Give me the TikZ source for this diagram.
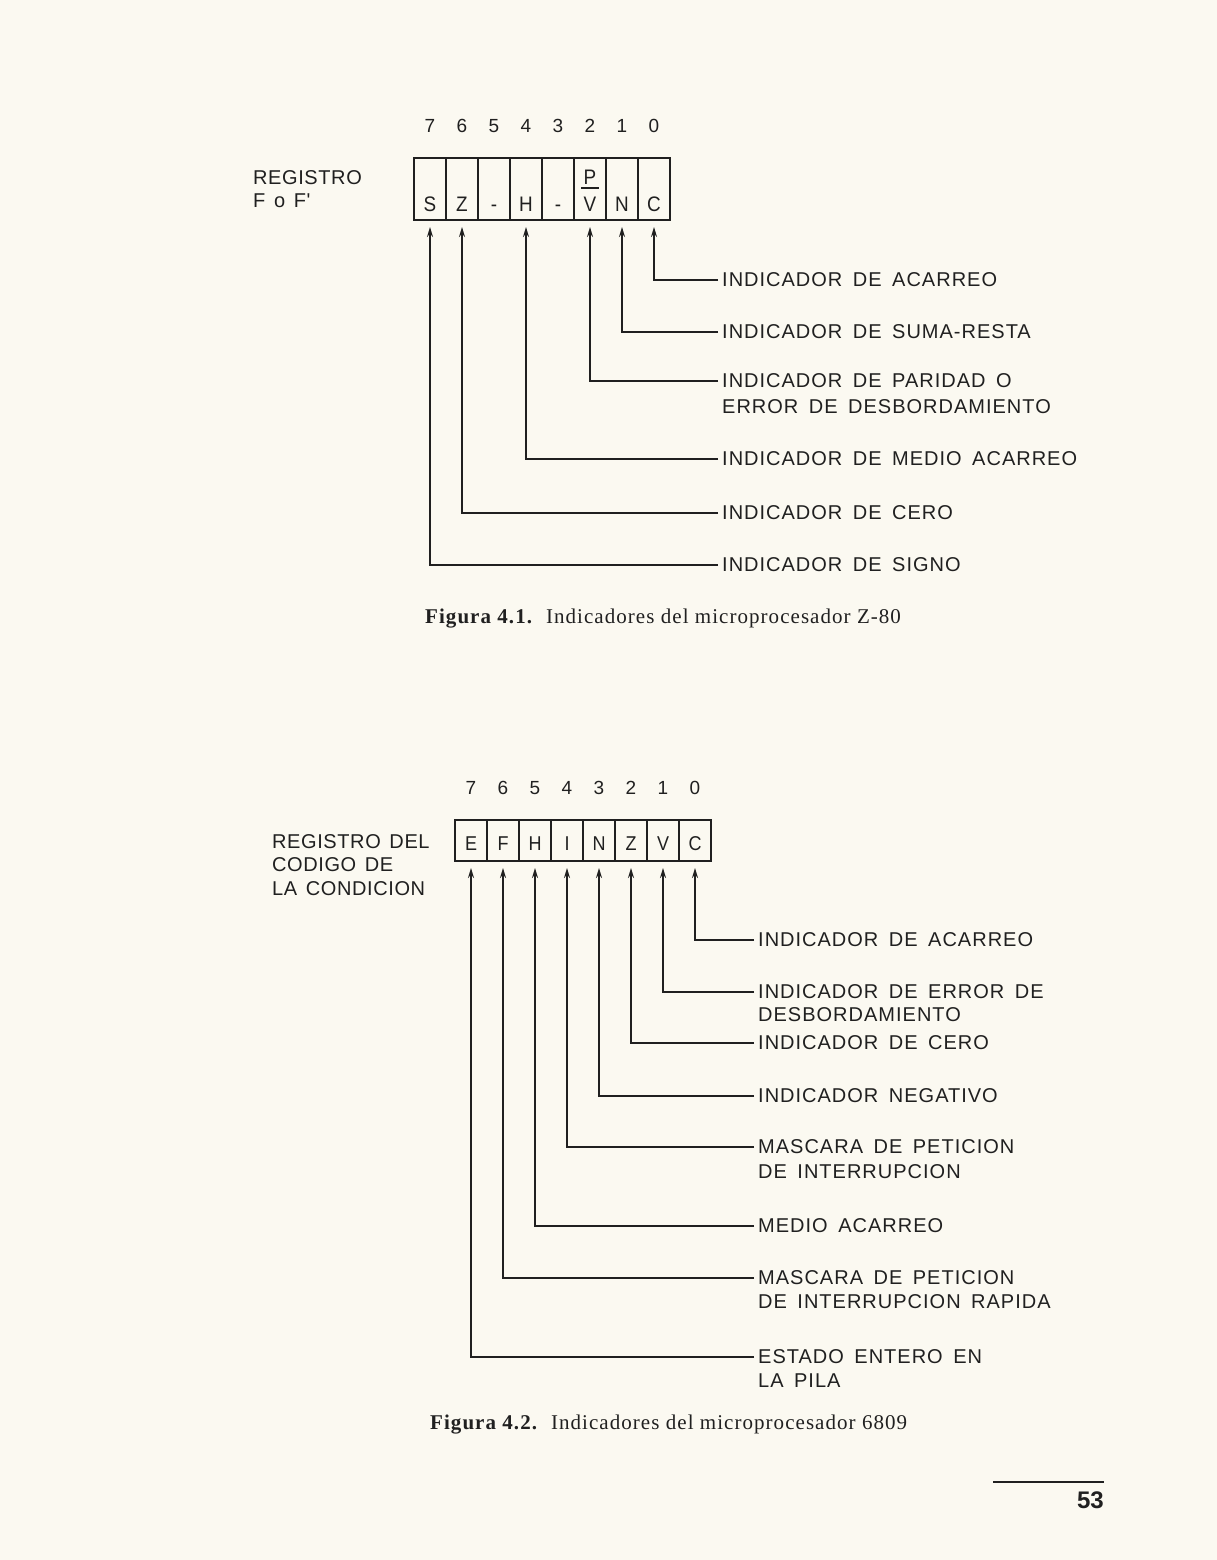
\documentclass[tikz,border=0pt]{standalone}
\usepackage{fontspec}
\setmainfont{Liberation Serif}
\newfontfamily\labelfont[LetterSpace=5,WordSpace=1.6]{Liberation Sans}
\newfontfamily\regfont[LetterSpace=3,WordSpace=1.4]{Liberation Sans}
\newfontfamily\cellfont[FakeStretch=0.9]{Liberation Sans}
\newfontfamily\numfont{Liberation Sans}
\newfontfamily\capfont[LetterSpace=5]{Liberation Serif}
\usetikzlibrary{arrows.meta,positioning}
\definecolor{PageInk}{HTML}{202020}
\definecolor{PagePaper}{HTML}{FBF9F1}
\tikzset{
    % Z-80 register cell (letter sits low)
    tallcell/.style={
        draw=PageInk,
        line width=1.6pt,
        minimum width=32pt,
        inner sep=0pt,
        outer sep=0pt,
        text height=53pt,
        text depth=9pt,
        text=PageInk,
        font=\cellfont\fontsize{21}{21}\selectfont
    },
    % 6809 register cell
    flatcell/.style={
        tallcell,
        text height=30pt,
        text depth=11pt,
        font=\cellfont\fontsize{20}{20}\selectfont
    },
    % Loose letter inside a cell
    celltext/.style={
        inner sep=0pt,
        text=PageInk,
        font=\cellfont\fontsize{21}{21}\selectfont
    },
    % Bit number above a cell
    bitnum/.style={
        inner sep=0pt,
        text height=14pt,
        text depth=0pt,
        text=PageInk,
        font=\numfont\fontsize{19}{19}\selectfont
    },
    % Register name
    reglabel/.style={
        anchor=west,
        align=left,
        inner sep=0pt,
        text=PageInk,
        font=\regfont\fontsize{20}{23.5}\selectfont
    },
    % Flag description
    flaglabel/.style={
        anchor=west,
        inner sep=4pt,
        text=PageInk,
        font=\labelfont\fontsize{20}{20}\selectfont
    },
    % Figure caption
    caption/.style={
        anchor=west,
        inner sep=0pt,
        text=PageInk,
        font=\capfont\fontsize{21}{21}\selectfont
    },
    % Connector from description up to its bit
    flagarrow/.style={
        ->,
        >={Stealth[length=10pt,width=6pt]},
        line width=1.6pt,
        draw=PageInk,
        shorten >=7pt
    },
    % Plain rule
    thinrule/.style={
        line width=1.5pt,
        draw=PageInk
    }
}
\begin{document}
\begin{tikzpicture}[x=1pt, y=-1pt]
    \fill[PagePaper] (0,0) rectangle (1217,1560);
    \useasboundingbox (0,0) rectangle (1217,1560);

    % Figura 4.1
    \node[reglabel] (regF) at (253,189) {REGISTRO\\F o F'};

    \node[tallcell] (fS) at (430,189) {S};
    \node[tallcell, right=0pt of fS] (fZ) {Z};
    \node[tallcell, right=0pt of fZ] (fB5) {-};
    \node[tallcell, right=0pt of fB5] (fH) {H};
    \node[tallcell, right=0pt of fH] (fB3) {-};
    \node[tallcell, right=0pt of fB3] (fPV) {V};
    \node[tallcell, right=0pt of fPV] (fN) {N};
    \node[tallcell, right=0pt of fN] (fC) {C};
    \node[celltext] (fP) at ([yshift=12pt]fPV.center) {P};
    \draw[thinrule] ([xshift=-9pt,yshift=-3.5pt]fP.south) -- ([xshift=9pt,yshift=-3.5pt]fP.south);

    \node[bitnum, above=25pt of fS] (nS) {7};
    \node[bitnum, above=25pt of fZ] (nZ) {6};
    \node[bitnum, above=25pt of fB5] (nB5) {5};
    \node[bitnum, above=25pt of fH] (nH) {4};
    \node[bitnum, above=25pt of fB3] (nB3) {3};
    \node[bitnum, above=25pt of fPV] (nPV) {2};
    \node[bitnum, above=25pt of fN] (nN) {1};
    \node[bitnum, above=25pt of fC] (nC) {0};

    \node[flaglabel] (lC) at (718,280) {INDICADOR DE ACARREO};
    \node[flaglabel] (lN) at (718,332) {INDICADOR DE SUMA-RESTA};
    \node[flaglabel] (lPV) at (718,381) {INDICADOR DE PARIDAD O};
    \node[flaglabel] (lPVb) at (718,407) {ERROR DE DESBORDAMIENTO};
    \node[flaglabel] (lH) at (718,459) {INDICADOR DE MEDIO ACARREO};
    \node[flaglabel] (lZ) at (718,513) {INDICADOR DE CERO};
    \node[flaglabel] (lS) at (718,565) {INDICADOR DE SIGNO};

    \draw[flagarrow] (lC.west) -| (fC.south);
    \draw[flagarrow] (lN.west) -| (fN.south);
    \draw[flagarrow] (lPV.west) -| (fPV.south);
    \draw[flagarrow] (lH.west) -| (fH.south);
    \draw[flagarrow] (lZ.west) -| (fZ.south);
    \draw[flagarrow] (lS.west) -| (fS.south);

    \node[caption] (capA) at (425,619) {\bfseries Figura 4.1.\hspace{14pt}\mdseries Indicadores del microprocesador Z-80};

    % Figura 4.2
    \node[reglabel] (regCC) at (272,865) {REGISTRO DEL\\CODIGO DE\\LA CONDICION};

    \node[flatcell] (gE) at (471,840.5) {E};
    \node[flatcell, right=0pt of gE] (gF) {F};
    \node[flatcell, right=0pt of gF] (gH) {H};
    \node[flatcell, right=0pt of gH] (gI) {I};
    \node[flatcell, right=0pt of gI] (gN) {N};
    \node[flatcell, right=0pt of gN] (gZ) {Z};
    \node[flatcell, right=0pt of gZ] (gV) {V};
    \node[flatcell, right=0pt of gV] (gC) {C};

    \node[bitnum, above=25pt of gE] (mE) {7};
    \node[bitnum, above=25pt of gF] (mF) {6};
    \node[bitnum, above=25pt of gH] (mH) {5};
    \node[bitnum, above=25pt of gI] (mI) {4};
    \node[bitnum, above=25pt of gN] (mN) {3};
    \node[bitnum, above=25pt of gZ] (mZ) {2};
    \node[bitnum, above=25pt of gV] (mV) {1};
    \node[bitnum, above=25pt of gC] (mC) {0};

    \node[flaglabel] (kC) at (754,940) {INDICADOR DE ACARREO};
    \node[flaglabel] (kV) at (754,992) {INDICADOR DE ERROR DE};
    \node[flaglabel] (kVb) at (754,1015) {DESBORDAMIENTO};
    \node[flaglabel] (kZ) at (754,1043) {INDICADOR DE CERO};
    \node[flaglabel] (kN) at (754,1096) {INDICADOR NEGATIVO};
    \node[flaglabel] (kI) at (754,1147) {MASCARA DE PETICION};
    \node[flaglabel] (kIb) at (754,1172) {DE INTERRUPCION};
    \node[flaglabel] (kH) at (754,1226) {MEDIO ACARREO};
    \node[flaglabel] (kF) at (754,1278) {MASCARA DE PETICION};
    \node[flaglabel] (kFb) at (754,1302) {DE INTERRUPCION RAPIDA};
    \node[flaglabel] (kE) at (754,1357) {ESTADO ENTERO EN};
    \node[flaglabel] (kEb) at (754,1381) {LA PILA};

    \draw[flagarrow] (kC.west) -| (gC.south);
    \draw[flagarrow] (kV.west) -| (gV.south);
    \draw[flagarrow] (kZ.west) -| (gZ.south);
    \draw[flagarrow] (kN.west) -| (gN.south);
    \draw[flagarrow] (kI.west) -| (gI.south);
    \draw[flagarrow] (kH.west) -| (gH.south);
    \draw[flagarrow] (kF.west) -| (gF.south);
    \draw[flagarrow] (kE.west) -| (gE.south);

    \node[caption] (capB) at (430,1425) {\bfseries Figura 4.2.\hspace{14pt}\mdseries Indicadores del microprocesador 6809};

    % page number
    \draw[thinrule] (993,1482) -- (1104,1482);
    \node[anchor=east, inner sep=0pt, text=PageInk, font=\numfont\bfseries\fontsize{24}{24}\selectfont] (pnum) at (1104,1500) {53};
\end{tikzpicture}
\end{document}
